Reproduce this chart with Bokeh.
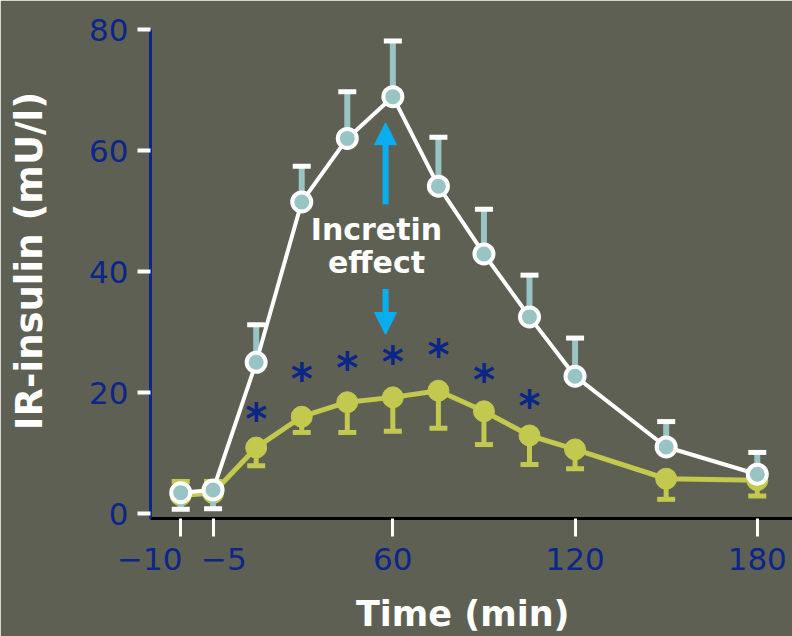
from bokeh.plotting import figure
from bokeh.models import Arrow, NormalHead, Label, FixedTicker
from bokeh.embed import file_html
from bokeh.resources import INLINE
from bokeh.core.properties import value

# ---- data ----
times = [-10, -5, 15, 30, 45, 60, 75, 90, 105, 120, 150, 180]
oral_insulin = [3.45, 3.9, 25.0, 51.5, 62.0, 68.9, 54.1, 42.9, 32.5, 22.7, 11.0, 6.5]
oral_bar_end = [0.7, 0.8, 31.2, 57.4, 69.7, 78.1, 62.2, 50.3, 39.4, 29.0, 15.2, 10.1]
iv_insulin = [3.0, 3.4, 10.9, 16.0, 18.4, 19.2, 20.3, 16.9, 12.9, 10.6, 5.75, 5.5]
iv_bar_end = [5.3, 5.3, 7.9, 13.4, 13.4, 13.6, 14.1, 11.4, 8.1, 7.4, 2.35, 2.9]
star_times = [15, 30, 45, 60, 75, 90, 105]
star_level = [17.1, 23.7, 25.5, 26.4, 27.6, 23.5, 19.2]
x_tick_times = [-10, -5, 60, 120, 180]
x_tick_labels = ["\u221210\u2003\u2003", "\u2002\u2009\u22125", "60", "120", "180"]
y_ticks = [0, 20, 40, 60, 80]
arrow_time = 57.6
arrow_up = (51.1, 64.6)
arrow_down = (37.1, 29.6)


def axis_x(t):
    # broken time axis: the two baseline samples sit on a compressed stretch left of 0
    return t if t >= 0 else 0.8 + (t + 5) * 2.13


xs = [axis_x(t) for t in times]
star_xs = [axis_x(t) for t in star_times]

BG = "#5e6054"
WHITE = "#ffffff"
TEAL = "#98c4c4"
GREEN = "#c2c94e"
NAVY = "#0c2688"
CYAN = "#0aaeef"
FONT = "DejaVu Sans"

p = figure(width=792, height=636, output_backend="svg", toolbar_location=None,
           x_range=(-19.8, 191.6), y_range=(-0.82, 80),
           min_border_left=150, min_border_right=0, min_border_top=29, min_border_bottom=115)
p.background_fill_color = BG
p.border_fill_color = BG
p.outline_line_color = BG
p.outline_line_width = 2
p.grid.grid_line_color = None

# axes
p.xaxis.ticker = FixedTicker(ticks=[axis_x(t) for t in x_tick_times])
p.xaxis.major_label_overrides = {axis_x(t): lab for t, lab in zip(x_tick_times, x_tick_labels)}
p.xaxis.axis_line_color = "black"
p.xaxis.axis_line_width = 3
p.xaxis.major_tick_line_color = WHITE
p.xaxis.major_tick_line_width = 3
p.xaxis.major_tick_in = 0
p.xaxis.major_tick_out = 18
p.xaxis.minor_tick_line_color = None
p.xaxis.major_label_text_color = NAVY
p.xaxis.major_label_text_font = FONT
p.xaxis.major_label_text_font_size = "31px"
p.xaxis.major_label_standoff = 4
p.xaxis.axis_label = "Time (min)\u2002"
p.xaxis.axis_label_text_color = WHITE
p.xaxis.axis_label_text_font = FONT
p.xaxis.axis_label_text_font_style = "bold"
p.xaxis.axis_label_text_font_size = "35px"
p.xaxis.axis_label_standoff = 14

p.yaxis.ticker = FixedTicker(ticks=y_ticks)
p.yaxis.axis_line_color = NAVY
p.yaxis.axis_line_width = 3
p.yaxis.major_tick_line_color = WHITE
p.yaxis.major_tick_line_width = 4
p.yaxis.major_tick_in = 0
p.yaxis.major_tick_out = 13
p.yaxis.minor_tick_line_color = None
p.yaxis.major_label_text_color = NAVY
p.yaxis.major_label_text_font = FONT
p.yaxis.major_label_text_font_size = "31px"
p.yaxis.major_label_standoff = 9
p.yaxis.axis_label = "\u2002\u2009IR-insulin (mU/l)"
p.yaxis.axis_label_text_color = WHITE
p.yaxis.axis_label_text_font = FONT
p.yaxis.axis_label_text_font_style = "bold"
p.yaxis.axis_label_text_font_size = "37px"
p.yaxis.axis_label_standoff = 35

# IV glucose series (green)
p.segment(x0=xs, y0=iv_insulin, x1=xs, y1=iv_bar_end, line_color=GREEN, line_width=5)
p.rect(x=xs, y=iv_bar_end, width=18, height=5, width_units="screen", height_units="screen",
       fill_color=GREEN, line_color=None)
p.line(xs, iv_insulin, line_color=GREEN, line_width=5)
p.scatter(xs, iv_insulin, size=21, fill_color=GREEN, line_color=GREEN, line_width=1)

# oral glucose series (white)
p.segment(x0=xs, y0=oral_insulin, x1=xs, y1=oral_bar_end, line_color=TEAL, line_width=6)
p.rect(x=xs, y=oral_bar_end, width=18, height=5, width_units="screen", height_units="screen",
       fill_color=WHITE, line_color=None)
p.line(xs, oral_insulin, line_color=WHITE, line_width=4)
p.scatter(xs, oral_insulin, size=19, fill_color=TEAL, line_color=WHITE, line_width=4)

# significance stars
p.text(x=star_xs, y=star_level, text=["*"] * len(star_xs), text_color=NAVY,
       text_font=value(FONT), text_font_style="bold", text_font_size="42px",
       text_align="center", text_baseline="alphabetic", y_offset=9)

# incretin effect annotation
p.add_layout(Arrow(x_start=arrow_time, y_start=arrow_up[0], x_end=arrow_time, y_end=arrow_up[1],
                   line_color=CYAN, line_width=6,
                   end=NormalHead(size=22, fill_color=CYAN, line_color=CYAN)))
p.add_layout(Arrow(x_start=arrow_time, y_start=arrow_down[0], x_end=arrow_time, y_end=arrow_down[1],
                   line_color=CYAN, line_width=6,
                   end=NormalHead(size=22, fill_color=CYAN, line_color=CYAN)))
for txt, yy in (("Incretin", 47.0), ("effect", 41.5)):
    p.add_layout(Label(x=54.6, y=yy, text=txt, text_color=WHITE, text_font=FONT,
                       text_font_style="bold", text_font_size="30px",
                       text_align="center", text_baseline="alphabetic"))

open("out.html", "w").write(file_html(p, INLINE))
